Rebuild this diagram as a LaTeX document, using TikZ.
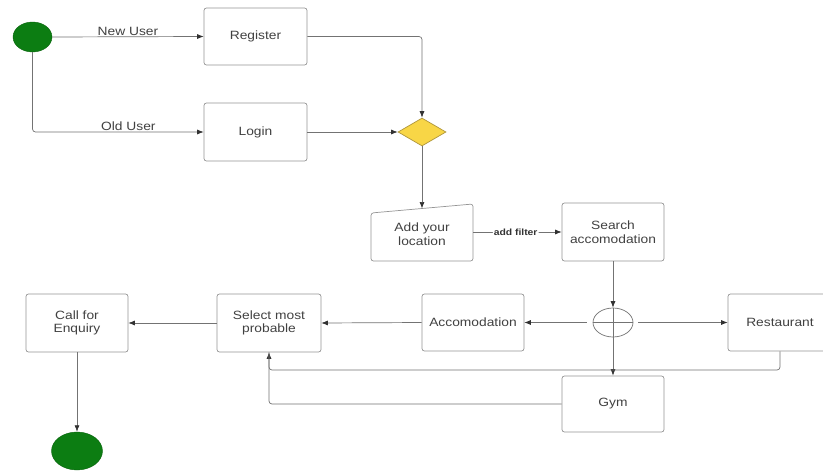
\documentclass[tikz,border=0pt]{standalone}
\usepackage{fontspec}
\setmainfont{Liberation Sans}[FakeStretch=1.15]
\usetikzlibrary{shapes.geometric,arrows.meta}
\definecolor{boxline}{RGB}{150,150,150}
\definecolor{conn}{RGB}{115,115,115}
\definecolor{txt}{RGB}{65,65,65}
\definecolor{tipcol}{RGB}{50,50,50}
\definecolor{startgreen}{RGB}{12,125,18}
\definecolor{decfill}{RGB}{248,214,70}
\definecolor{decline}{RGB}{175,150,60}
\tikzset{
  every node/.style={font=\fontsize{12}{13.5}\selectfont, text=txt},
  stepbox/.style={draw=boxline, line width=0.7pt, rounded corners=2.5pt, align=center, inner sep=0pt},
  conn/.style={draw=conn, line width=0.7pt, rounded corners=3pt},
  arr/.style={conn, -{Latex[length=6.5pt,width=5pt,color=tipcol]}},
  lbl/.style={font=\fontsize{12}{13.5}\selectfont, inner sep=1pt},
  terminal/.style={ellipse, fill=startgreen, draw=startgreen!80!black, line width=0.4pt, inner sep=0pt},
}
\begin{document}
\begin{tikzpicture}[x=1pt,y=-1pt]
\useasboundingbox (0,0) rectangle (823,471);
\clip (0,0) rectangle (823,471);
\fill[white] (0,0) rectangle (823,471);
% nodes
\node[terminal, minimum width=39pt, minimum height=30pt] (start) at (32.5,37) {};
\node[stepbox, minimum width=103pt, minimum height=57pt] (reg) at (255.5,36.5) {Register};
\node[stepbox, minimum width=103pt, minimum height=58pt] (login) at (255.5,132) {Login};
\node[diamond, draw=decline, fill=decfill, line width=0.7pt, minimum width=48pt, minimum height=28pt, inner sep=0pt] (dec) at (422,132) {};
\draw[draw=boxline, line width=0.7pt, rounded corners=2.5pt] (371,213) -- (473,204) -- (473,261) -- (371,261) -- cycle;
\node[align=center, minimum width=102pt, minimum height=57pt, inner sep=0pt] (loc) at (422,234) {Add your\\location};
\coordinate (loctop) at (422,208.5);
\node[stepbox, minimum width=102pt, minimum height=58pt] (search) at (613,232) {Search\\accomodation};
\node[ellipse, draw=conn, line width=0.7pt, minimum width=40pt, minimum height=29pt, inner sep=0pt] (junc) at (613,322.5) {};
\node[stepbox, minimum width=102pt, minimum height=57pt] (acc) at (473,322.5) {Accomodation};
\node[stepbox, minimum width=104pt, minimum height=57pt] (rest) at (780,322.5) {Restaurant};
\node[stepbox, minimum width=102pt, minimum height=56pt] (gym) at (613,404) {Gym};
\node[stepbox, minimum width=104pt, minimum height=58pt] (sel) at (269,323) {Select most\\probable};
\node[stepbox, minimum width=102pt, minimum height=58pt] (call) at (77,323) {Call for\\Enquiry};
\node[terminal, minimum width=51pt, minimum height=38pt] (endc) at (77,451) {};
\coordinate (rj) at (780,370);
% connectors
\draw[arr] (start.east) -- node[lbl, above, pos=0.5] {New User} (reg.west);
\draw[arr] (start.south) |- node[lbl, above, pos=0.78] {Old User} (login.west);
\draw[arr] (reg.east) -| (dec.north);
\draw[arr] (login.east) -- (dec.west);
\draw[arr] (dec.south) -- (loctop);
\draw[arr] (loc.east |- 0,232) -- node[lbl, fill=white, font=\bfseries\fontsize{9}{10}\selectfont, text=black!80, pos=0.48] {add filter} (search.west);
\draw[arr] (search.south) -- (junc.north);
\draw[conn] (junc.west) -- (junc.east);
\draw[arr] (junc.north) -- (gym.north);
\draw[arr, shorten <=6pt] (junc.west) -- (acc.east);
\draw[arr, shorten <=5pt] (junc.east) -- (rest.west);
\draw[arr] (acc.west) -- (sel.east);
\draw[arr] (sel.west) -- (call.east);
\draw[arr] (call.south) -- (endc.north);
\draw[arr] (rest.south) -- (rj) -| (sel.south);
\draw[conn] (gym.west) -| (sel.south);
\end{tikzpicture}
\end{document}
